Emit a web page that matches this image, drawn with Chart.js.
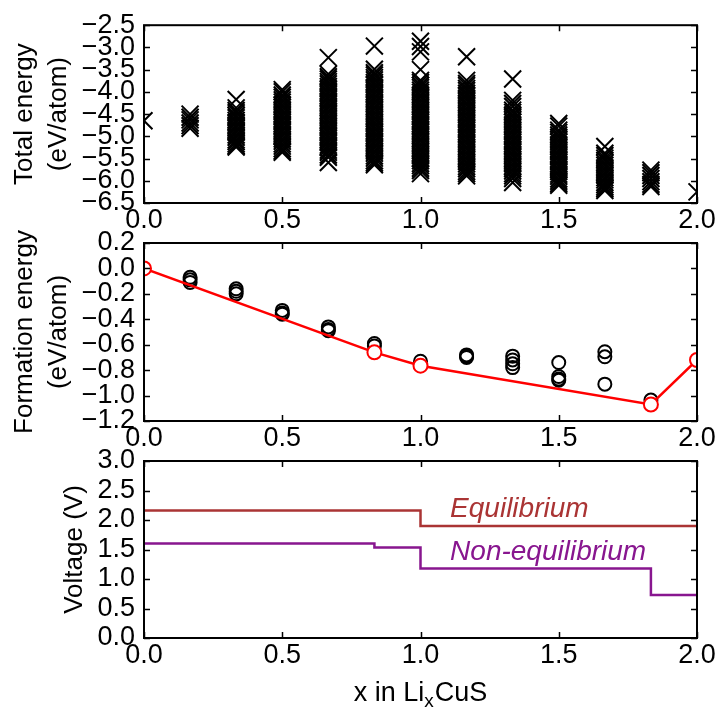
<!DOCTYPE html>
<html>
<head>
<meta charset="utf-8">
<script src="https://cdn.jsdelivr.net/npm/chart.js@4.4.1/dist/chart.umd.min.js"></script>
<style>
  html, body { margin: 0; padding: 0; background: #fff; }
  #wrap { position: relative; width: 719px; height: 707px; overflow: hidden; }
  #wrap canvas { position: absolute; left: 0; top: 0; }
</style>
</head>
<body>
<div id="wrap">
  <canvas id="totalChart" width="719" height="707"></canvas>
  <canvas id="formChart" width="719" height="707"></canvas>
  <canvas id="voltChart" width="719" height="707"></canvas>
</div>
<script>
const FONT = '"Liberation Sans", Arial, Helvetica, sans-serif';

// x in LixCuS
const compositions = [0, 0.1667, 0.3333, 0.5, 0.6667, 0.8333, 1.0, 1.1667, 1.3333, 1.5, 1.6667, 1.8333, 2.0];

// total energies (eV/atom), one list per composition
const totalE_000 = [-4.65];
const totalE_017 = [-4.5, -4.57, -4.63, -4.7, -4.76, -4.82];
const totalE_033 = [-4.17, -4.36, -4.42, -4.47, -4.53, -4.58, -4.64, -4.69, -4.75, -4.8, -4.86, -4.91, -4.97, -5.02, -5.08, -5.12, -5.17, -5.21, -5.24];
const totalE_050 = [-3.95, -4.0, -4.07, -4.12, -4.18, -4.23, -4.29, -4.34, -4.4, -4.45, -4.51, -4.56, -4.62, -4.67, -4.73, -4.78, -4.84, -4.89, -4.95, -5.0, -5.06, -5.11, -5.17, -5.22, -5.28, -5.33, -5.36];
const totalE_067 = [-3.23, -3.6, -3.66, -3.71, -3.77, -3.82, -3.88, -3.93, -3.99, -4.04, -4.1, -4.15, -4.21, -4.26, -4.32, -4.37, -4.43, -4.48, -4.54, -4.59, -4.65, -4.7, -4.76, -4.81, -4.87, -4.92, -4.98, -5.03, -5.09, -5.14, -5.2, -5.25, -5.31, -5.36, -5.42, -5.47, -5.59];
const totalE_083 = [-2.97, -3.49, -3.57, -3.62, -3.68, -3.73, -3.79, -3.84, -3.9, -3.95, -4.01, -4.06, -4.12, -4.17, -4.23, -4.28, -4.34, -4.39, -4.45, -4.5, -4.56, -4.61, -4.67, -4.72, -4.78, -4.83, -4.89, -4.94, -5.0, -5.05, -5.11, -5.16, -5.22, -5.27, -5.33, -5.38, -5.44, -5.49, -5.55, -5.6, -5.64];
const totalE_100 = [-2.86, -2.98, -3.1, -3.5, -3.74, -3.79, -3.85, -3.9, -3.96, -4.01, -4.07, -4.12, -4.18, -4.23, -4.29, -4.34, -4.4, -4.45, -4.51, -4.56, -4.62, -4.67, -4.73, -4.78, -4.84, -4.89, -4.95, -5.0, -5.06, -5.11, -5.17, -5.22, -5.28, -5.33, -5.39, -5.44, -5.5, -5.55, -5.61, -5.66, -5.72, -5.77, -5.84];
const totalE_117 = [-3.21, -3.74, -3.81, -3.86, -3.92, -3.97, -4.03, -4.08, -4.14, -4.19, -4.25, -4.3, -4.36, -4.41, -4.47, -4.52, -4.58, -4.63, -4.69, -4.74, -4.8, -4.85, -4.91, -4.96, -5.02, -5.07, -5.13, -5.18, -5.24, -5.29, -5.35, -5.4, -5.46, -5.51, -5.57, -5.62, -5.68, -5.73, -5.79, -5.84, -5.89];
const totalE_133 = [-3.71, -4.19, -4.26, -4.33, -4.41, -4.46, -4.52, -4.57, -4.63, -4.68, -4.74, -4.79, -4.85, -4.9, -4.96, -5.01, -5.07, -5.12, -5.18, -5.23, -5.29, -5.34, -5.4, -5.45, -5.51, -5.56, -5.62, -5.67, -5.73, -5.78, -5.84, -5.89, -5.95, -6.04];
const totalE_150 = [-4.71, -4.77, -4.86, -4.91, -4.97, -5.02, -5.08, -5.13, -5.19, -5.24, -5.3, -5.35, -5.41, -5.46, -5.52, -5.57, -5.63, -5.68, -5.74, -5.79, -5.85, -5.9, -5.96, -6.01, -6.06, -6.1];
const totalE_167 = [-5.23, -5.38, -5.43, -5.49, -5.54, -5.6, -5.65, -5.71, -5.76, -5.82, -5.87, -5.93, -5.98, -6.04, -6.09, -6.14, -6.18, -6.22];
const totalE_183 = [-5.76, -5.82, -5.88, -5.95, -6.02, -6.08, -6.13];
const totalE_200 = [-6.25];
const totalEnergyColumns = [totalE_000, totalE_017, totalE_033, totalE_050, totalE_067, totalE_083, totalE_100,
  totalE_117, totalE_133, totalE_150, totalE_167, totalE_183, totalE_200];

// formation energies (eV/atom) of the sampled structures
const formE_017 = [-0.07, -0.09, -0.11];
const formE_033 = [-0.16, -0.18, -0.2];
const formE_050 = [-0.33, -0.35, -0.36];
const formE_067 = [-0.46, -0.48, -0.49];
const formE_083 = [-0.59, -0.61];
const formE_100 = [-0.73];
const formE_117 = [-0.68, -0.69, -0.7];
const formE_133 = [-0.69, -0.72, -0.75, -0.78];
const formE_150 = [-0.74, -0.85, -0.87, -0.88];
const formE_167 = [-0.655, -0.695, -0.91];
const formE_183 = [-1.035];
const formX = [0.1667, 0.3333, 0.5, 0.6667, 0.8333, 1.0, 1.1667, 1.3333, 1.5, 1.6667, 1.8333];
const formColumns = [formE_017, formE_033, formE_050, formE_067, formE_083, formE_100, formE_117,
  formE_133, formE_150, formE_167, formE_183];

// convex hull
const hullX = [0, 0.8333, 1.0, 1.8333, 2.0];
const hullE = [0, -0.66, -0.765, -1.07, -0.72];

// voltage profiles
const eqX = [0, 1.0, 2.0];
const eqV = [2.16, 1.90, 1.90];
const neqX = [0, 0.8333, 1.0, 1.8333, 2.0];
const neqV = [1.60, 1.535, 1.18, 0.73, 0.73];

// ticks
const xTicks = [0, 0.5, 1.0, 1.5, 2.0];
const totalTicks = [-6.5, -6.0, -5.5, -5.0, -4.5, -4.0, -3.5, -3.0, -2.5];
const formTicks = [-1.2, -1.0, -0.8, -0.6, -0.4, -0.2, 0.0, 0.2];
const voltTicks = [0, 0.5, 1.0, 1.5, 2.0, 2.5, 3.0];

// layout
const PLOT_LEFT = 144, PLOT_RIGHT = 697, X_AXIS_H = 40, TICK_LEN = 6;
const EQ_COLOR = '#aa3434', NEQ_COLOR = '#88168f';
const eqLabelPos = { x: 1.107, y: 2.05 };
const neqLabelPos = { x: 1.107, y: 1.32 };

function fmt(v) {
  const n = Math.abs(v) < 1e-9 ? 0 : v;
  return n.toFixed(1).replace('-', '\u2212');
}

const frameTicks = {
  id: 'frameTicks',
  afterDatasetsDraw(chart) {
    const { ctx, chartArea: a } = chart;
    const x = chart.scales.x, y = chart.scales.y;
    ctx.save();
    ctx.strokeStyle = '#000';
    ctx.lineWidth = 1.5;
    ctx.beginPath();
    x.ticks.forEach(t => {
      const px = Math.round(x.getPixelForValue(t.value)) + 0.5;
      ctx.moveTo(px, a.bottom); ctx.lineTo(px, a.bottom - TICK_LEN);
      ctx.moveTo(px, a.top); ctx.lineTo(px, a.top + TICK_LEN);
    });
    y.ticks.forEach(t => {
      const py = Math.round(y.getPixelForValue(t.value)) + 0.5;
      ctx.moveTo(a.left, py); ctx.lineTo(a.left + TICK_LEN, py);
      ctx.moveTo(a.right, py); ctx.lineTo(a.right - TICK_LEN, py);
    });
    ctx.stroke();
    ctx.lineWidth = 2;
    ctx.strokeRect(a.left, a.top, a.right - a.left, a.bottom - a.top);
    ctx.restore();
  }
};

function panelOptions(top, bottom, yMin, yMax, yTickVals, yTitle, yTitlePad) {
  return {
    responsive: false,
    animation: false,
    events: [],
    layout: { padding: { top: top, bottom: 707 - bottom - X_AXIS_H, left: 0, right: 719 - PLOT_RIGHT } },
    plugins: { legend: { display: false }, tooltip: { enabled: false } },
    scales: {
      x: {
        type: 'linear', min: 0, max: 2,
        grid: { display: false, drawTicks: false },
        border: { display: false },
        afterBuildTicks: s => { s.ticks = xTicks.map(v => ({ value: v })); },
        afterFit: s => { s.height = X_AXIS_H; },
        ticks: { font: { family: FONT, size: 27 }, color: '#000', padding: 1, maxRotation: 0, autoSkip: false, callback: fmt }
      },
      y: {
        type: 'linear', min: yMin, max: yMax,
        grid: { display: false, drawTicks: false },
        border: { display: false },
        afterBuildTicks: s => { s.ticks = yTickVals.map(v => ({ value: v })); },
        afterFit: s => { s.width = PLOT_LEFT; },
        ticks: { font: { family: FONT, size: 27 }, color: '#000', padding: 9, autoSkip: false, callback: fmt },
        title: {
          display: true, text: yTitle, color: '#000',
          font: { family: FONT, size: 26, lineHeight: 1.3 },
          padding: { top: yTitlePad, bottom: 0 }
        }
      }
    }
  };
}

// --- total energy panel
const totalPoints = [];
compositions.forEach((c, i) => {
  totalEnergyColumns[i].forEach(e => totalPoints.push({ x: c, y: e }));
});
new Chart(document.getElementById('totalChart'), {
  type: 'scatter',
  data: {
    datasets: [{
      data: totalPoints,
      pointStyle: 'crossRot',
      pointRadius: 12,
      pointBorderWidth: 2,
      pointBorderColor: '#000',
      pointBackgroundColor: '#000'
    }]
  },
  options: panelOptions(25, 203, -6.5, -2.5, totalTicks, ['Total energy', '(eV/atom)'], 8),
  plugins: [frameTicks]
});

// --- formation energy panel
const formPoints = [];
formX.forEach((c, i) => {
  formColumns[i].forEach(e => formPoints.push({ x: c, y: e }));
});
new Chart(document.getElementById('formChart'), {
  type: 'scatter',
  data: {
    datasets: [{
      type: 'line',
      data: hullX.map((x, i) => ({ x: x, y: hullE[i] })),
      borderColor: '#ff0000',
      borderWidth: 2.5,
      pointRadius: 7,
      pointBorderWidth: 2,
      pointBorderColor: '#ff0000',
      pointBackgroundColor: '#ffffff',
      order: 0
    }, {
      data: formPoints,
      pointStyle: 'circle',
      pointRadius: 6.5,
      pointBorderWidth: 2,
      pointBorderColor: '#000',
      pointBackgroundColor: 'rgba(0,0,0,0)',
      order: 1
    }]
  },
  options: panelOptions(243, 421, -1.2, 0.2, formTicks, ['Formation energy', '(eV/atom)'], 8),
  plugins: [frameTicks]
});

// --- voltage panel
const voltLabels = {
  id: 'voltLabels',
  afterDatasetsDraw(chart) {
    const { ctx, chartArea: a } = chart;
    const x = chart.scales.x, y = chart.scales.y;
    ctx.save();
    ctx.font = 'italic 28px ' + FONT;
    ctx.textBaseline = 'alphabetic';
    ctx.textAlign = 'left';
    ctx.fillStyle = EQ_COLOR;
    ctx.fillText('Equilibrium', x.getPixelForValue(eqLabelPos.x), y.getPixelForValue(eqLabelPos.y));
    ctx.fillStyle = NEQ_COLOR;
    ctx.fillText('Non-equilibrium', x.getPixelForValue(neqLabelPos.x), y.getPixelForValue(neqLabelPos.y));

    // x axis title with subscript
    ctx.fillStyle = '#000';
    const big = '27px ' + FONT, small = '19px ' + FONT;
    ctx.font = big;
    const w1 = ctx.measureText('x in Li').width, w3 = ctx.measureText('CuS').width;
    ctx.font = small;
    const w2 = ctx.measureText('x').width + 1;
    let cx = (a.left + a.right) / 2 - (w1 + w2 + w3) / 2;
    const base = 701;
    ctx.font = big;
    ctx.fillText('x in Li', cx, base);
    ctx.font = small;
    ctx.fillText('x', cx + w1, base + 6);
    ctx.font = big;
    ctx.fillText('CuS', cx + w1 + w2, base);
    ctx.restore();
  }
};
new Chart(document.getElementById('voltChart'), {
  type: 'line',
  data: {
    datasets: [{
      data: eqX.map((x, i) => ({ x: x, y: eqV[i] })),
      stepped: 'before',
      borderColor: EQ_COLOR,
      borderWidth: 2.5,
      pointRadius: 0
    }, {
      data: neqX.map((x, i) => ({ x: x, y: neqV[i] })),
      stepped: 'before',
      borderColor: NEQ_COLOR,
      borderWidth: 2.5,
      pointRadius: 0
    }]
  },
  options: panelOptions(461, 638, 0, 3, voltTicks, 'Voltage (V)', 58),
  plugins: [frameTicks, voltLabels]
});
</script>
</body>
</html>
